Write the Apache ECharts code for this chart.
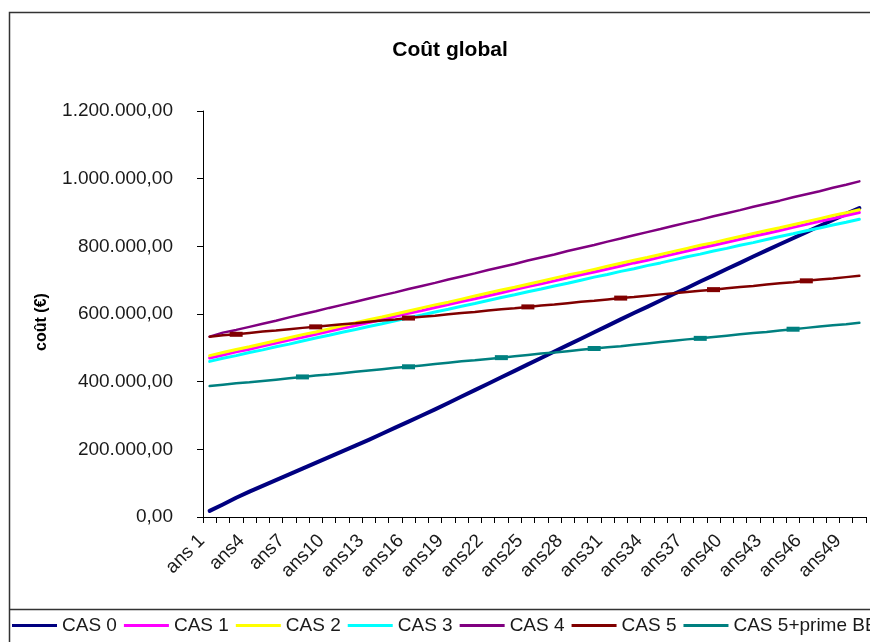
<!DOCTYPE html>
<html>
<head>
<meta charset="utf-8">
<script src="https://cdn.jsdelivr.net/npm/echarts@6/dist/echarts.min.js"></script>
<style>
  html, body { margin: 0; padding: 0; background: #fff; }
  #chart { width: 870px; height: 642px; }
</style>
</head>
<body>
<div id="chart"></div>
<script>
const categories = ['ans 1','ans2','ans3','ans4','ans5','ans6','ans7','ans8','ans9','ans10',
  'ans11','ans12','ans13','ans14','ans15','ans16','ans17','ans18','ans19','ans20',
  'ans21','ans22','ans23','ans24','ans25','ans26','ans27','ans28','ans29','ans30',
  'ans31','ans32','ans33','ans34','ans35','ans36','ans37','ans38','ans39','ans40',
  'ans41','ans42','ans43','ans44','ans45','ans46','ans47','ans48','ans49','ans50'];

const seriesNames = ['CAS 0','CAS 1','CAS 2','CAS 3','CAS 4','CAS 5','CAS 5+prime BE'];
const seriesColors = ['#000080','#FF00FF','#FFFF00','#00FFFF','#800080','#800000','#008080'];

const cas0 = [18000,37000,57000,75000,92000,109000,126000,143000,160000,177000,
  194000,211000,228000,246000,264000,282000,300000,318000,337000,356000,
  375000,394000,413000,432000,451000,470000,489000,508000,527000,546000,
  565000,584000,603000,621000,640000,659000,677000,696000,714000,733000,
  751000,770000,788000,806000,824000,842000,860000,878000,896000,913000];
const cas1 = [470000,479000,488000,496000,505000,514000,523000,531000,540000,549000,
  558000,566000,575000,584000,593000,602000,610000,619000,628000,637000,
  645000,654000,663000,672000,681000,689000,698000,707000,716000,724000,
  733000,742000,751000,759000,768000,777000,786000,795000,803000,812000,
  821000,830000,838000,847000,856000,865000,874000,882000,891000,900000];
const cas2 = [477000,486000,495000,503000,512000,521000,530000,539000,547000,556000,
  565000,574000,583000,591000,600000,609000,618000,627000,635000,644000,
  653000,662000,671000,679000,688000,697000,706000,715000,723000,732000,
  741000,750000,759000,767000,776000,785000,794000,803000,811000,820000,
  829000,838000,847000,855000,864000,873000,882000,891000,899000,908000];
const cas3 = [460000,469000,477000,486000,494000,503000,511000,520000,529000,537000,
  546000,554000,563000,571000,580000,589000,597000,606000,614000,623000,
  631000,640000,649000,657000,666000,674000,683000,691000,700000,709000,
  717000,726000,734000,743000,751000,760000,769000,777000,786000,794000,
  803000,811000,820000,829000,837000,846000,854000,863000,871000,880000];
const cas4 = [533000,545000,553000,562000,571000,580000,590000,599000,608000,618000,
  627000,636000,646000,655000,664000,674000,683000,692000,702000,711000,
  720000,730000,739000,748000,758000,767000,776000,786000,795000,804000,
  814000,823000,833000,842000,851000,861000,870000,879000,889000,898000,
  907000,917000,926000,935000,945000,954000,963000,973000,982000,992000];
const cas5 = [533000,537000,540000,544000,548000,551000,555000,559000,562000,566000,
  570000,573000,577000,581000,584000,588000,592000,595000,599000,603000,
  606000,610000,614000,617000,621000,625000,628000,632000,636000,639000,
  643000,647000,650000,654000,658000,661000,665000,669000,672000,676000,
  680000,683000,687000,691000,694000,698000,702000,705000,709000,713000];
const cas5prime = [387000,391000,395000,398000,402000,406000,410000,414000,418000,421000,
  425000,429000,433000,437000,441000,444000,448000,452000,456000,460000,
  463000,467000,471000,475000,479000,483000,486000,490000,494000,498000,
  502000,505000,509000,513000,517000,521000,525000,528000,532000,536000,
  540000,544000,547000,551000,555000,559000,563000,567000,570000,574000];

// years (ans N) where a small square marker shows on the line
const cas5Markers = [3, 9, 16, 25, 32, 39, 46];
const cas5primeMarkers = [8, 16, 23, 30, 38, 45];

const yTickLabels = ['0,00','200.000,00','400.000,00','600.000,00','800.000,00','1.000.000,00','1.200.000,00'];
const yAxisTitle = 'coût (€)';
const chartTitle = 'Coût global';

const FONT = 'Liberation Sans, Arial, sans-serif';

function withMarkers(values, markerYears) {
  return values.map((v, i) => markerYears.indexOf(i + 1) >= 0
    ? { value: v, symbol: 'rect', symbolSize: [13, 5] }
    : v);
}

const allData = [cas0, cas1, cas2, cas3, cas4,
  withMarkers(cas5, cas5Markers), withMarkers(cas5prime, cas5primeMarkers)];
const widths = [4, 3, 3, 3, 2.5, 2.5, 2.5];

const chart = echarts.init(document.getElementById('chart'), null, { renderer: 'canvas' });
chart.setOption({
  animation: false,
  backgroundColor: '#ffffff',
  title: {
    text: chartTitle,
    left: 445,
    textAlign: 'center',
    top: 35,
    textStyle: { fontSize: 21, fontWeight: 'bold', color: '#000', fontFamily: FONT }
  },
  graphic: [
    { type: 'polyline', shape: { points: [[870, 12.5], [9.5, 12.5], [9.5, 642]] },
      style: { stroke: '#333', lineWidth: 1.5, fill: null } },
    { type: 'line', shape: { x1: 9.5, y1: 609.5, x2: 870, y2: 609.5 },
      style: { stroke: '#333', lineWidth: 1.5 } },
    { type: 'text', x: 42, y: 322, rotation: Math.PI / 2,
      style: { text: yAxisTitle, fontSize: 16, fontWeight: 'bold', fill: '#000',
        fontFamily: FONT, align: 'center', verticalAlign: 'middle' } }
  ],
  legend: {
    left: 12,
    top: 616,
    width: 1500,
    padding: 0,
    itemWidth: 45,
    itemHeight: 3,
    itemGap: 7,
    icon: 'rect',
    data: seriesNames,
    textStyle: { fontSize: 19, color: '#1a1a1a', fontFamily: FONT }
  },
  grid: { left: 203, right: 4, top: 111, bottom: 125, containLabel: false },
  xAxis: {
    type: 'category',
    data: categories,
    boundaryGap: true,
    axisLine: { show: true, lineStyle: { color: '#000', width: 1 } },
    axisTick: { show: true, interval: 0, length: 6, lineStyle: { color: '#000' } },
    axisLabel: {
      interval: 2, rotate: 45, margin: 13, fontSize: 19, color: '#1a1a1a', fontFamily: FONT,
      padding: [0, 11, 0, 0]
    },
    splitLine: { show: false }
  },
  yAxis: {
    type: 'value',
    min: 0, max: 1200000, interval: 200000,
    axisLine: { show: true, lineStyle: { color: '#000', width: 1 } },
    axisTick: { show: true, length: 6, lineStyle: { color: '#000' } },
    axisLabel: {
      margin: 30, fontSize: 19, color: '#1a1a1a', fontFamily: FONT,
      formatter: v => yTickLabels[Math.round(v / 200000)]
    },
    splitLine: { show: false }
  },
  series: seriesNames.map((name, i) => ({
    name,
    type: 'line',
    data: allData[i],
    symbol: 'none',
    showAllSymbol: true,
    color: seriesColors[i],
    itemStyle: { color: seriesColors[i] },
    lineStyle: { color: seriesColors[i], width: widths[i], cap: 'round', join: 'round' },
    emphasis: { disabled: true }
  }))
});
</script>
</body>
</html>
